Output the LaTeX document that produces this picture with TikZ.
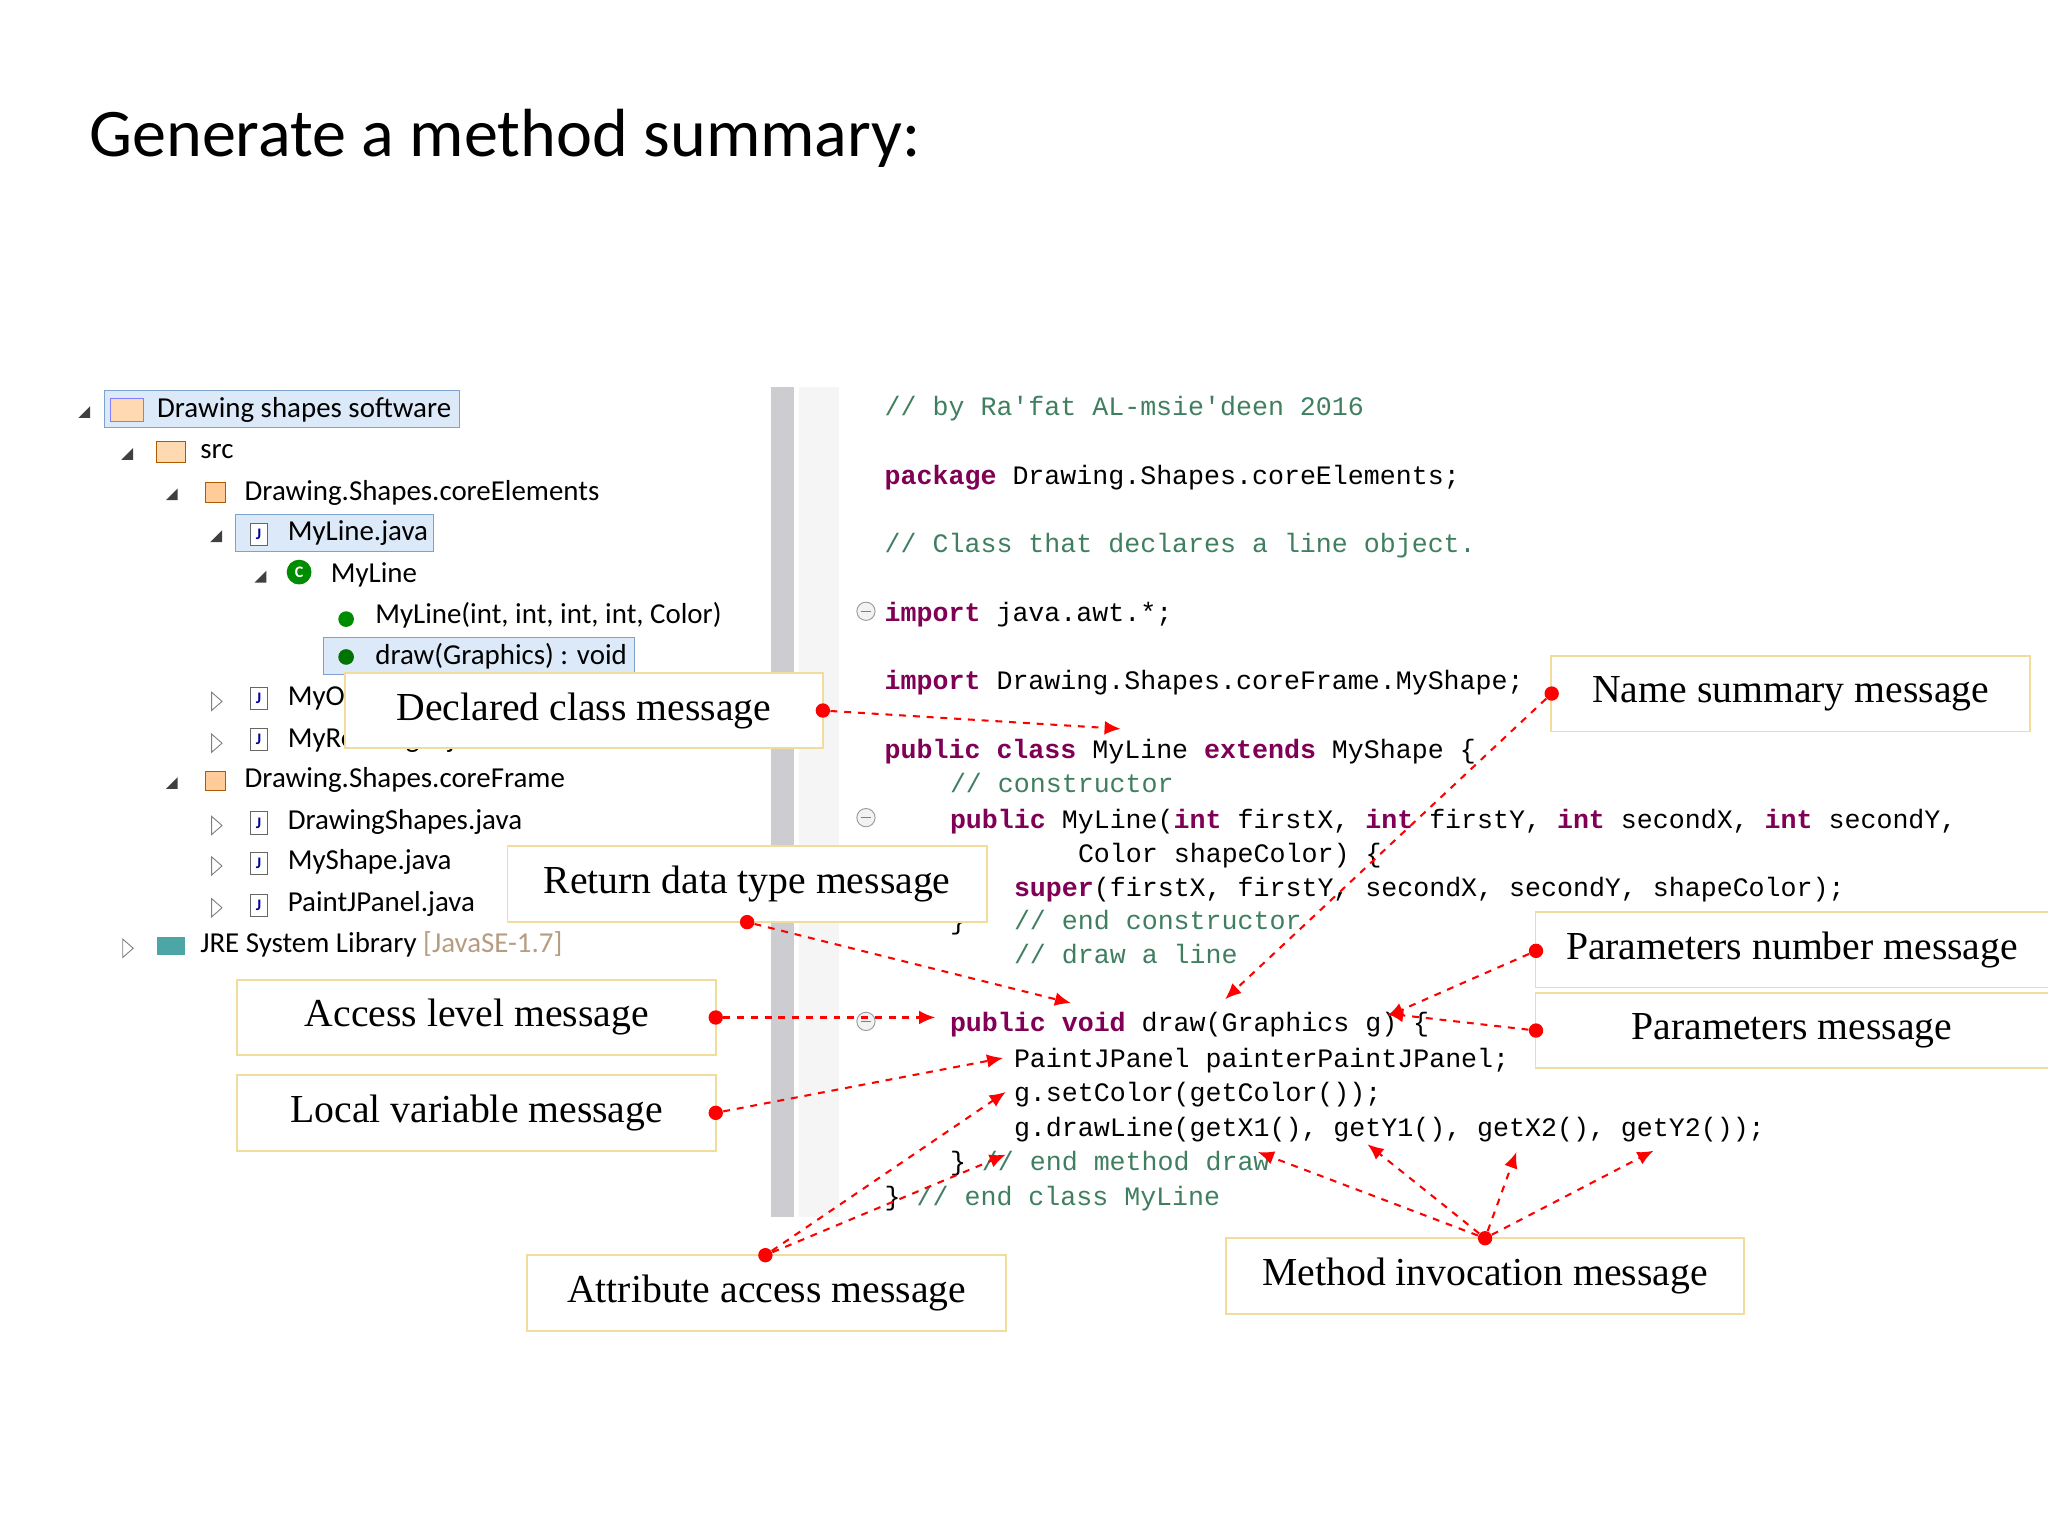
\documentclass[tikz,border=0pt]{standalone}
\usepackage{fontspec}
\usetikzlibrary{arrows.meta}
\setmainfont{Liberation Serif}
\newfontfamily\ttl{Carlito}
\newfontfamily\codef{Liberation Mono}
\definecolor{kwc}{HTML}{7F0055}
\definecolor{cmc}{HTML}{3F7F5F}
\definecolor{boxc}{HTML}{F2DC9B}
\definecolor{selc}{HTML}{7DA2CE}
\definecolor{selfill}{HTML}{DCE9F8}
\newcommand{\kw}[1]{{\color{kwc}\bfseries #1}}
\newcommand{\cm}[1]{{\color{cmc}#1}}
\newcommand{\lw}[1]{\raisebox{-0.08cm}{#1}}
\begin{document}
\begin{tikzpicture}[x=0.02cm,y=-0.02cm,
  code/.style={anchor=base west,inner sep=0pt,font=\codef\fontsize{11.6}{13}\selectfont},
  tree/.style={anchor=base west,inner sep=0pt,font=\ttl\fontsize{12.6}{14}\selectfont},
  lab/.style={draw=boxc,fill=white,line width=0.8pt,font=\fontsize{17.3}{19}\selectfont,inner sep=0pt,minimum height=1.16cm},
  dot/.style={circle,fill=red,inner sep=0pt,minimum size=0.22cm},
  conn/.style={red,dashed,line width=0.9pt,-{Latex[length=7pt,width=6pt]}},
  jic/.style={draw=black!60,fill=white,minimum width=0.26cm,minimum height=0.34cm,inner sep=0pt,font=\ttl\scriptsize\bfseries\color{blue!60!black}},
  pkg/.style={draw=orange!70!black,fill=orange!40,minimum size=0.3cm,inner sep=0pt}]
\useasboundingbox (0,0) rectangle (1568,1176);
\node[anchor=base west,inner sep=0pt,font=\ttl\fontsize{29.7}{34}\selectfont] (title) at (68,120) {Generate a method summary:};
% editor bars
\fill[blue!10!black!20] (590,296) rectangle (608,932);
\fill[black!4] (612,296) rectangle (642,932);
% tree
\draw[selc,fill=selfill] (80,299) rectangle (352,327);
\draw[selc,fill=selfill] (180,394) rectangle (332,422);
\draw[selc,fill=selfill] (248,488) rectangle (486,516);
\foreach \x/\y in {65/316,98/348,132/379,166/411,200/442,132/600}{\fill[black!75] (\x+4,\y-5) -- (\x+4,\y+4) -- (\x-5,\y+4) -- cycle;}
\foreach \x/\y in {166/537,166/569,166/632,166/663,166/695,98/726}{\draw[black!50] (\x-4,\y-7) -- (\x+4,\y) -- (\x-4,\y+7) -- cycle;}
\node[draw=blue!50,fill=orange!30,minimum width=0.5cm,minimum height=0.36cm,inner sep=0pt] (i0) at (97,314) {};
\node[draw=orange!70!black,fill=orange!30,minimum width=0.44cm,minimum height=0.32cm,inner sep=0pt] (i1) at (131,346) {};
\node[pkg] (i2) at (165,377) {};
\node[pkg] (i9) at (165,598) {};
\foreach \n/\y in {3/409,7/535,8/566,10/630,11/661,12/693}{\node[jic] (j\n) at (198,\y) {J};}
\node[circle,fill=green!55!black,minimum size=0.38cm,inner sep=0pt,font=\ttl\scriptsize\bfseries\color{white}] (i4) at (229,438) {C};
\node[circle,fill=green!55!black,minimum size=0.24cm,inner sep=0pt] (i5) at (265,474) {};
\node[circle,fill=green!45!black,minimum size=0.24cm,inner sep=0pt] (i6) at (265,503) {};
\node[fill=teal!70,minimum width=0.44cm,minimum height=0.28cm,inner sep=0pt] (i13) at (131,724) {};
\node[tree] (t0) at (120,320) {Drawing shapes software};
\node[tree] (t1) at (153,351) {src};
\node[tree] (t2) at (187,383) {Drawing.Shapes.coreElements};
\node[tree] (t3) at (220,414) {MyLine.java};
\node[tree] (t4) at (253,446) {MyLine};
\node[tree] (t5) at (287,477) {MyLine(int, int, int, int, Color)};
\node[tree] (t6) at (287,509) {draw(Graphics) : void};
\node[tree] (t7) at (220,540) {MyOval.java};
\node[tree] (t8) at (220,572) {MyRectangle.java};
\node[tree] (t9) at (187,603) {Drawing.Shapes.coreFrame};
\node[tree] (t10) at (220,635) {DrawingShapes.java};
\node[tree] (t11) at (220,666) {MyShape.java};
\node[tree] (t12) at (220,698) {PaintJPanel.java};
\node[tree] (t13) at (153,729) {JRE System Library {\color{brown!70!black!60}[JavaSE-1.7]}};
% code
\foreach \y in {469,627,783}{\draw[black!40,fill=black!5] (663,\y-1) circle (7); \draw[black!50] (659,\y-1) -- (667,\y-1);}
\node[code] (c1) at (677,318) {\cm{// by Ra'fat AL-msie'deen  2016}};
\node[code] (c2) at (677,371) {\kw{package} Drawing.Shapes.coreElements;};
\node[code] (c3) at (677,423) {\cm{// Class that declares a line object.}};
\node[code] (c4) at (677,476) {\kw{import} java.awt.*;};
\node[code] (c5) at (677,528) {\kw{import} Drawing.Shapes.coreFrame.MyShape;};
\node[code] (c6) at (677,581) {\kw{public class} MyLine \kw{extends} MyShape \{};
\node[code] (c7) at (727,607) {\cm{// constructor}};
\node[code] (c8) at (727,634) {\kw{public} MyLine(\kw{int} firstX, \kw{int} firstY, \kw{int} secondX, \kw{int} secondY,};
\node[code] (c9) at (825,660) {Color shapeColor) \{};
\node[code] (c10) at (776,686) {\kw{super}(firstX, firstY, secondX, secondY, shapeColor);};
\node[code] (c11) at (727,712) {\}};
\node[code] (c12) at (776,712) {\cm{// end constructor}};
\node[code] (c13) at (776,738) {\cm{// draw a line}};
\node[code] (c14) at (727,790) {\kw{public void} draw(Graphics g) \{};
\node[code] (c15) at (776,817) {PaintJPanel painterPaintJPanel;};
\node[code] (c16) at (776,843) {g.setColor(getColor());};
\node[code] (c17) at (776,870) {g.drawLine(getX1(), getY1(), getX2(), getY2());};
\node[code] (c18) at (727,896) {\} \cm{// end method draw}};
\node[code] (c19) at (677,923) {\} \cm{// end class MyLine}};
% labels
\node[lab,minimum width=7.32cm] (l1) at (447,544) {\lw{Declared class message}};
\node[lab,minimum width=7.34cm] (l2) at (1371,531) {\lw{Name summary message}};
\node[lab,minimum width=7.34cm] (l3) at (572,677) {\lw{Return data type message}};
\node[lab,minimum width=7.34cm] (l4) at (365,779) {\lw{Access level message}};
\node[lab,minimum width=7.34cm] (l5) at (365,852) {\lw{Local variable message}};
\node[lab,minimum width=7.86cm] (l6) at (1372,727) {\lw{Parameters number message}};
\node[lab,minimum width=7.86cm] (l7) at (1372,789) {\lw{Parameters message}};
\node[lab,minimum width=7.34cm] (l8) at (587,990) {\lw{Attribute access message}};
\node[lab,minimum width=7.94cm] (l9) at (1137,977) {\lw{Method invocation message}};
% dots
\node[dot] (d1) at (630,544) {};
\node[dot] (d2) at (1188,531) {};
\node[dot] (d3) at (572,706) {};
\node[dot] (d4) at (548,779) {};
\node[dot] (d5) at (548,852) {};
\node[dot] (d6) at (1176,728) {};
\node[dot] (d7) at (1176,789) {};
\node[dot] (d8) at (586,961) {};
\node[dot] (d9) at (1137,948) {};
% targets
\coordinate (a1) at (858,558);
\coordinate (a2) at (938,765);
\coordinate (a3) at (820,768);
\coordinate (a4) at (716,779);
\coordinate (a5) at (768,810);
\coordinate (a6) at (1062,778);
\coordinate (a7) at (1062,776);
\coordinate (a8) at (770,836);
\coordinate (a9) at (770,884);
\coordinate (b1) at (963,882);
\coordinate (b2) at (1047,876);
\coordinate (b3) at (1161,882);
\coordinate (b4) at (1266,881);
\draw[conn] (d1) -- (a1);
\draw[conn] (d2) -- (a2);
\draw[conn] (d3) -- (a3);
\draw[conn] (d4) -- (a4);
\draw[conn] (d5) -- (a5);
\draw[conn] (d6) -- (a6);
\draw[conn] (d7) -- (a7);
\draw[conn] (d8) -- (a8);
\draw[conn] (d8) -- (a9);
\draw[conn] (d9) -- (b1);
\draw[conn] (d9) -- (b2);
\draw[conn] (d9) -- (b3);
\draw[conn] (d9) -- (b4);
\end{tikzpicture}
\end{document}
